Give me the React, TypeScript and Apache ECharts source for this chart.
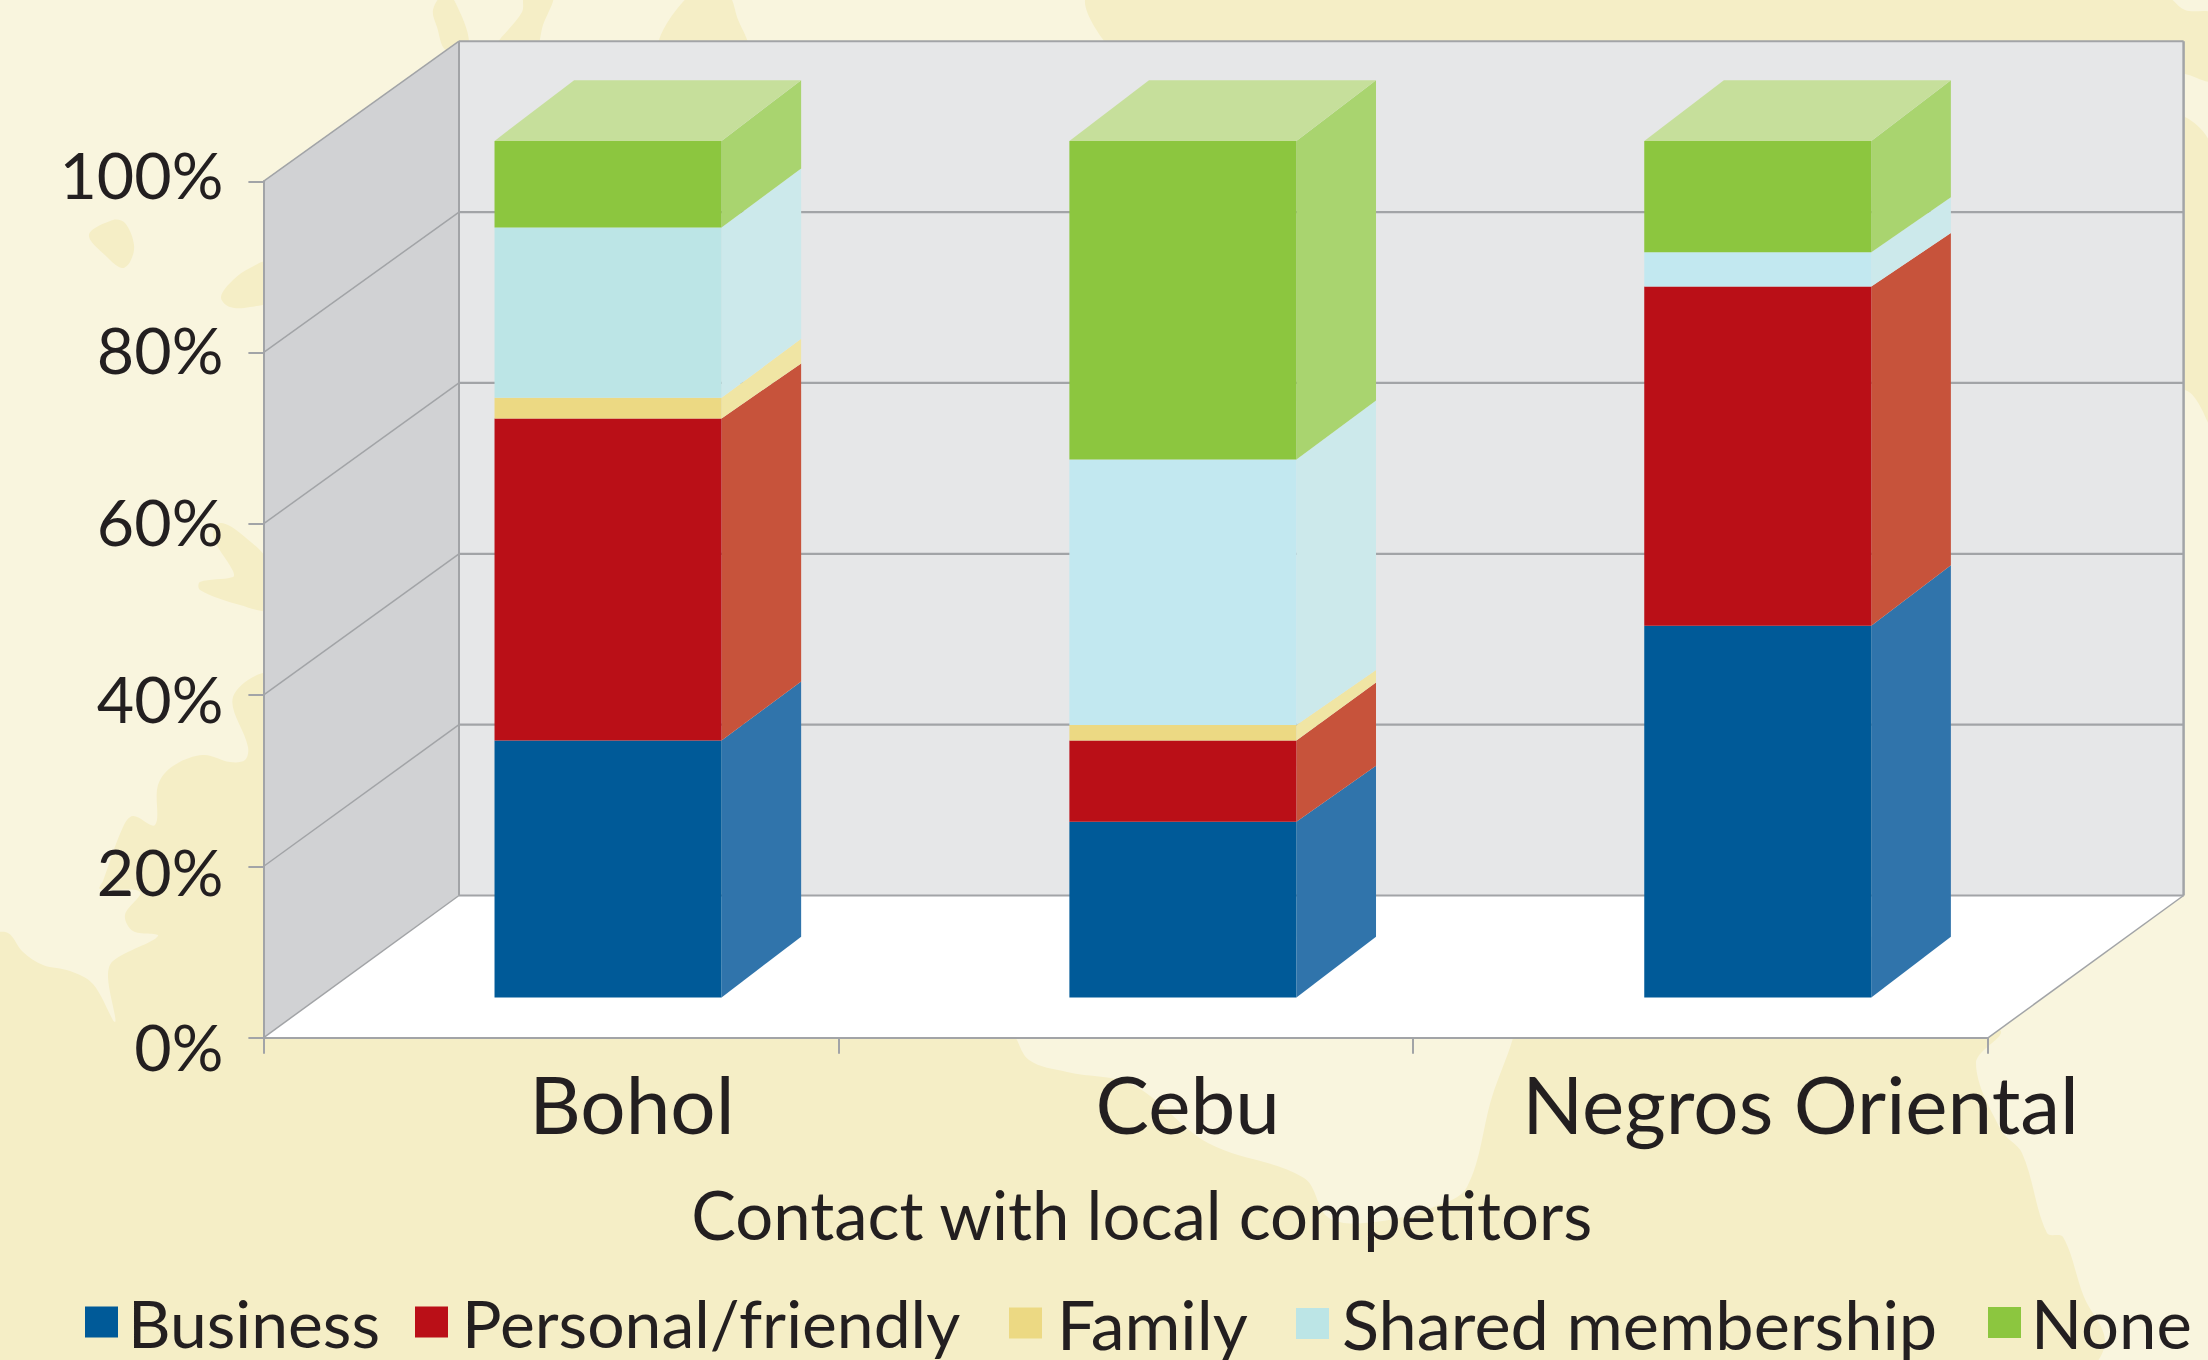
import React, { useEffect, useRef } from "react";
import * as echarts from "echarts";

const categories = ["Bohol", "Cebu", "Negros Oriental"];
const seriesNames = ["Business", "Personal/friendly", "Family", "Shared membership", "None"];
const business = [30.0, 20.5, 43.4];
const personal = [37.6, 9.5, 39.6];
const family = [2.4, 1.8, 0];
const shared = [19.9, 31.0, 4.0];
const none = [10.1, 37.2, 13.0];
const seriesValues = [business, personal, family, shared, none];
const yTicks = [0, 20, 40, 60, 80, 100];

const frontColors = ["#005a98", "#ba0f17", "#ecd983", "#bce5e6", "#8cc63f"];
const sharedFronts = ["#bce5e6", "#c2e8f0", "#c2e8f0"];
const sideColors = ["#3074ab", "#c7533b", "#f0e5a4", "#cce9eb", "#a9d46f"];
const topColor = "#c6df9b";
const LINE = "#a2a4a7";
const INK = "#231f20";
const FONT = "Lato";

// Geometry of the fake 3D box, relative to the axes' front plane
const DEPTH_X = 195.6;
const DEPTH_Y = 142.3;
const BACK_SCALE = 0.9974;
const BAR_WIDTH_RATIO = 227 / 574.8;
const BAR_OFF_X = 57.2;
const BAR_OFF_Y = 40.4;
const BAR_DX = 79.6;
const BAR_DY = 60.7;
// Rise of the side edge above each segment's top, per series and category
const sideLift = [
  [59, 56, 60.5],
  [55, 58, 53.5],
  [59, 55, 53.5],
  [59, 59, 55],
  [60.7, 60.7, 60.7],
];

const legendLeft = [85, 415, 1009, 1296, 1988];
const legendGap = [5, 9, 10, 8, 5];
const legendSize = [66, 66, 68, 68.5, 67];
const labelShift = [162, 124, 200];
const yLabelShift: Record<string, number> = { 0: 8, 20: 4, 40: 3, 60: -3, 80: -4, 100: -7 };

const DARK = "#f5eec6";
const LIGHT = "#f9f5de";

const blobs: number[][][] = [
  [[89,235],[113,220],[125,223],[134,245],[130,262],[122,268],[107,257]],
  [[268,262],[250,268],[233,280],[221,297],[230,307],[250,307],[270,300]],
  [[433,10],[443,-6],[451,-6],[469,45],[446,50],[437,27]],
  [[525,-6],[553,-6],[543,25],[534,50],[495,50],[522,12]],
  [[691,-6],[727,-6],[737,17],[746,50],[660,50]],
  [[220,523],[240,533],[270,565],[270,609],[240,605],[200,590],[200,582],[233,577],[233,571],[213,536]],
  // lower region of the map
  [[270,672],[233,697],[248,747],[245,760],[230,762],[203,755],[173,766],[158,785],[155,825],[133,816],[123,827],[103,881],
   [100,889],[140,892],[125,915],[133,931],[158,936],[113,961],[108,977],[115,1022],[93,984],[70,971],[43,965],[23,952],[8,933],[-6,936],
   [-6,1366],[2088,1366],[2105,1340],[2084,1297],[2063,1237],[2047,1233],[2022,1153],[2001,1130],[1976,1063],[2000,1030],
   [1900,1000],[1520,1000],[1513,1038],[1492,1097],[1467,1187],[1434,1207],[1375,1222],[1329,1218],[1304,1178],[1208,1143],[1133,1085],[1067,1072],[1029,1060],[1008,1030],
   [900,1000],[500,900],[300,700]],
  // upper right region
  [[1092,-6],[1112,50],[1300,200],[2185,390],[2214,430],[2214,156],[2185,117],[2100,100],[2100,60],[2185,74],[2214,80],[2214,15],[2185,10],[2161,-6]],
];

function frameItem(params: any, api: any) {
  const cs = params.coordSys;
  const l = cs.x, r = cs.x + cs.width;
  const t = api.coord([0, 100])[1], b = api.coord([0, 0])[1];
  const bb = b - DEPTH_Y;
  const bt = bb - (b - t) * BACK_SCALE;
  const poly = (points: number[][], fill: string) => ({ type: "polygon", shape: { points }, style: { fill }, silent: true });
  const line = (points: number[][], w: number) => ({ type: "polyline", shape: { points }, style: { stroke: LINE, lineWidth: w, fill: "none" }, silent: true });
  return {
    type: "group",
    children: [
      poly([[l, b], [l + DEPTH_X, bb], [r + DEPTH_X, bb], [r, b]], "#ffffff"),
      poly([[l + DEPTH_X, bt], [r + DEPTH_X, bt], [r + DEPTH_X, bb], [l + DEPTH_X, bb]], "#e6e7e8"),
      poly([[l, t], [l + DEPTH_X, bt], [l + DEPTH_X, bb], [l, b]], "#d1d2d4"),
      line([[l + DEPTH_X, bt], [l + DEPTH_X, bb]], 2),
      line([[r + DEPTH_X, bt], [r + DEPTH_X, bb]], 2.5),
      line([[r + DEPTH_X, bb], [r, b]], 1.5),
    ],
  };
}

function gridItem(params: any, api: any) {
  const cs = params.coordSys;
  const l = cs.x, r = cs.x + cs.width;
  const y = api.coord([0, api.value(0)])[1];
  const b = api.coord([0, 0])[1];
  const yb = b - DEPTH_Y - (b - y) * BACK_SCALE;
  return {
    type: "group",
    silent: true,
    children: [
      { type: "line", silent: true, shape: { x1: l, y1: y, x2: l + DEPTH_X, y2: yb }, style: { stroke: LINE, lineWidth: 1.5 } },
      { type: "line", silent: true, shape: { x1: l + DEPTH_X, y1: yb, x2: r + DEPTH_X, y2: yb }, style: { stroke: LINE, lineWidth: 2.2 } },
    ],
  };
}

function barItem(s: number) {
  return (params: any, api: any) => {
    const idx = api.value(0);
    const start = api.value(1), end = api.value(2);
    if (end <= start) return { type: "group", children: [] };
    const bw = api.size([1, 0])[0] * BAR_WIDTH_RATIO;
    const xc = api.coord([idx, 0])[0] + BAR_OFF_X;
    const x0 = xc - bw / 2, x1 = xc + bw / 2;
    const y0 = api.coord([idx, start])[1] - BAR_OFF_Y;
    const y1 = api.coord([idx, end])[1] - BAR_OFF_Y;
    const front = s === 3 ? sharedFronts[idx] : frontColors[s];
    const liftBottom = s === 0 ? BAR_DY : sideLift[s - 1][idx];
    const liftTop = sideLift[s][idx];
    const children: any[] = [
      { type: "polygon", silent: true, shape: { points: [[x1, y0], [x1 + BAR_DX, y0 - liftBottom], [x1 + BAR_DX, y1 - liftTop], [x1, y1]] }, style: { fill: sideColors[s] } },
      { type: "rect", silent: true, shape: { x: x0, y: y1, width: bw, height: y0 - y1 }, style: { fill: front } },
    ];
    if (s === seriesNames.length - 1) {
      children.push({ type: "polygon", silent: true, shape: { points: [[x0, y1], [x1, y1], [x1 + BAR_DX, y1 - BAR_DY], [x0 + BAR_DX, y1 - BAR_DY]] }, style: { fill: topColor } });
    }
    return { type: "group", children };
  };
}

export default function App() {
  const ref = useRef<HTMLDivElement>(null);
  useEffect(() => {
    document.body.style.margin = "0";
    const chart = echarts.init(ref.current!, undefined, { renderer: "svg" });
    const running = categories.map(() => 0);
    const barSeries = seriesNames.map((name, s) => {
      const data = categories.map((_, i) => {
        const row = [i, running[i], running[i] + seriesValues[s][i]];
        running[i] += seriesValues[s][i];
        return row;
      });
      return {
        type: "custom" as const,
        name,
        z: 4,
        clip: false,
        itemStyle: { color: frontColors[s] },
        encode: { x: 0, y: [1, 2] },
        renderItem: barItem(s),
        data,
      };
    });
    const yRich: Record<string, any> = {};
    yTicks.forEach((t) => {
      const d = yLabelShift[t];
      yRich[`y${t}`] = { fontFamily: FONT, fontSize: 64.5, color: INK, padding: d > 0 ? [2 * d, 0, 0, 0] : [0, 0, -2 * d, 0] };
    });
    chart.setOption({
      animation: false,
      backgroundColor: LIGHT,
      textStyle: { fontFamily: FONT, color: INK },
      graphic: blobs.map((points) => ({
        type: "polygon",
        z: -10,
        silent: true,
        shape: { points, smooth: 0.35 },
        style: { fill: DARK },
      })),
      grid: { left: 263.4, top: 181.3, width: 1724.6, height: 856.5, containLabel: false },
      legend: seriesNames.map((name, s) => ({
        data: [{ name, icon: "rect", itemStyle: { color: frontColors[s] } }],
        left: legendLeft[s],
        top: 1289,
        padding: 0,
        itemWidth: 33,
        itemHeight: 31,
        selectedMode: false,
        textStyle: { fontFamily: FONT, fontSize: legendSize[s], color: INK, padding: [0, 0, 10, legendGap[s]] },
      })),
      xAxis: {
        type: "category",
        data: categories,
        z: 10,
        name: "Contact with local competitors",
        nameLocation: "middle",
        nameGap: 143,
        nameTextStyle: { fontFamily: FONT, fontSize: 67, color: INK, padding: [0, 0, 0, 32] },
        axisLine: { lineStyle: { color: LINE, width: 2 } },
        axisTick: { show: true, length: 16, lineStyle: { color: LINE, width: 2 } },
        axisLabel: {
          margin: 25,
          interval: 0,
          color: INK,
          fontFamily: FONT,
          fontSize: 80,
          formatter: (v: string) => `{c${categories.indexOf(v)}|${v}}`,
          rich: Object.fromEntries(
            categories.map((_, i) => [`c${i}`, { fontFamily: FONT, fontSize: 80, color: INK, padding: [0, 0, 0, labelShift[i]] }])
          ),
        },
      },
      yAxis: {
        type: "value",
        min: 0,
        max: 100,
        interval: 20,
        z: 10,
        splitLine: { show: false },
        axisLine: { show: true, lineStyle: { color: LINE, width: 2 } },
        axisTick: { show: true, length: 15, lineStyle: { color: LINE, width: 2 } },
        axisLabel: { margin: 40, color: INK, fontFamily: FONT, fontSize: 64.5, formatter: (v: number) => `{y${v}|${v}%}`, rich: yRich },
      },
      series: [
        { type: "custom", name: "frame", z: 1, silent: true, clip: false, renderItem: frameItem, data: [[0]] },
        { type: "custom", name: "grid", z: 2, silent: true, clip: false, renderItem: gridItem, encode: { y: 0 }, data: yTicks.map((t) => [t]) },
        ...barSeries,
      ],
    });
    return () => chart.dispose();
  }, []);
  return <div ref={ref} style={{ position: "fixed", left: 0, top: 0, width: 2208, height: 1360, overflow: "hidden" }} />;
}
